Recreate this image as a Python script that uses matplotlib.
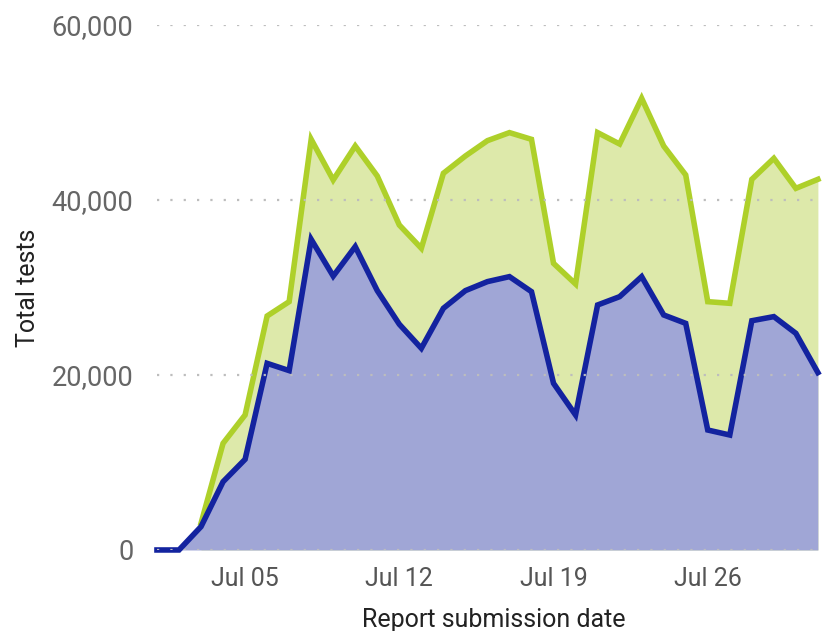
import pandas as pd
import numpy as np
import matplotlib.pyplot as plt
import matplotlib.dates as mdates
from matplotlib.ticker import FuncFormatter

# Data (Jul 01 - Jul 31)
dates = pd.date_range('2020-07-01', '2020-07-31', freq='D')

blue_values = [0, 0, 2670, 7800, 10360, 21330, 20500, 35500, 31300, 34670,
               29640, 25800, 23050, 27620, 29640, 30670, 31240, 29520, 19050, 15430,
               28000, 28950, 31240, 26860, 25900, 13710, 13140, 26200, 26670, 24760,
               20270]

green_values = [np.nan, np.nan, 3050, 12190, 15430, 26740, 28380, 46930, 42290, 46170,
                42740, 37140, 34480, 43050, 45030, 46780, 47700, 46930, 32760, 30400,
                47700, 46400, 51620, 46170, 42860, 28380, 28190, 42360, 44760, 41330,
                42360]

tick_dates = pd.to_datetime(['2020-07-05', '2020-07-12', '2020-07-19', '2020-07-26'])
y_ticks = [0, 20000, 40000, 60000]

plt.rcParams['font.family'] = ['Roboto', 'DejaVu Sans']

fig = plt.figure(figsize=(8.27, 6.31), dpi=100)
ax = fig.add_axes([0.1898, 0.1284, 0.7992, 0.832])

green = np.array(green_values, dtype=float)
blue = np.array(blue_values, dtype=float)
mask = ~np.isnan(green)

# Areas
ax.fill_between(dates[mask], 0, green[mask], color='#dde9aa', linewidth=0)
ax.fill_between(dates, 0, blue, color='#a0a6d6', linewidth=0)

# Lines
ax.plot(dates[mask], green[mask], color='#aed02a', linewidth=4, solid_joinstyle='miter', clip_on=False)
ax.plot(dates, blue, color='#13239f', linewidth=4, solid_joinstyle='miter', clip_on=False)

# Axes styling
ax.set_xlim(dates[0], dates[-1])
ax.set_ylim(0, 60000)
ax.set_yticks(y_ticks)
ax.yaxis.set_major_formatter(FuncFormatter(lambda v, p: f'{int(v):,}'))
ax.set_xticks(tick_dates)
ax.xaxis.set_major_formatter(mdates.DateFormatter('%b %d'))

for s in ax.spines.values():
    s.set_visible(False)
ax.tick_params(axis='both', length=0)
ax.tick_params(axis='y', labelsize=19.5, labelcolor='#666666', pad=17)
ax.tick_params(axis='x', labelsize=18, labelcolor='#555555', pad=12)

ax.grid(axis='y', color='#bdbdbd', linestyle=(0, (1, 5)), linewidth=1.6)
ax.set_axisbelow(False)
ax.grid(axis='x', visible=False)

ax.set_xlabel('Report submission date', fontsize=18, color='#222222', labelpad=4)
ax.xaxis.set_label_coords(0.51, -0.11)
ax.set_ylabel('Total tests', fontsize=18, color='#222222', labelpad=8)

fig.savefig('out.png', dpi=100)
